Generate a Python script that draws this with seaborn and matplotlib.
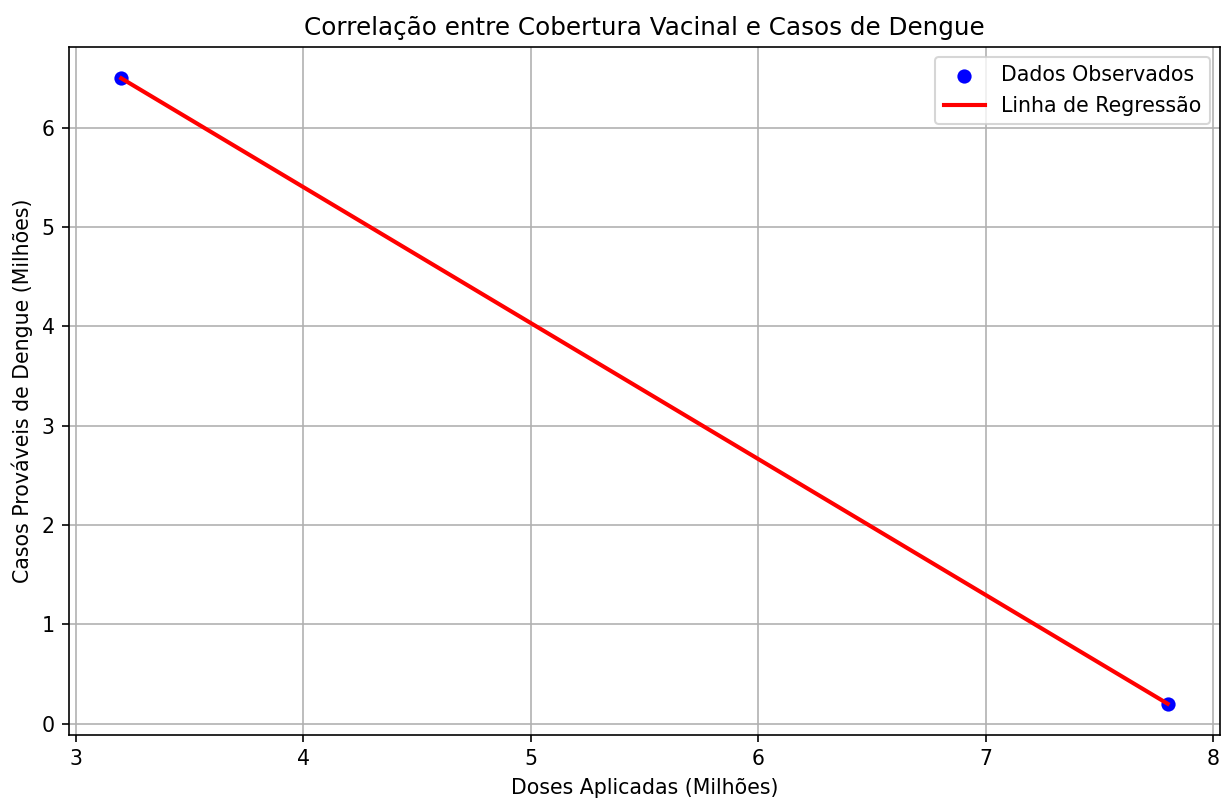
import matplotlib
matplotlib.use("Agg")
import matplotlib.pyplot as plt
import seaborn as sns
import numpy as np
import pandas as pd

doses = [3.2, 7.8]
casos = [6.5, 0.2]
reg_x = [3.2, 7.8]
reg_y = [6.5, 0.2]

df = pd.DataFrame({"doses": doses, "casos": casos})
reg = pd.DataFrame({"x": reg_x, "y": reg_y})

DPI = 148
fig, ax = plt.subplots(figsize=(1225 / DPI, 802 / DPI), dpi=DPI)
fig.subplots_adjust(left=0.0563, right=0.9959, top=0.9414, bottom=0.0835)

sns.scatterplot(data=df, x="doses", y="casos", color="blue", s=48, linewidth=0,
                label="Dados Observados", ax=ax, zorder=3)
sns.lineplot(data=reg, x="x", y="y", color="red", linewidth=2,
             label="Linha de Regressão", ax=ax, zorder=4)

ax.set_title("Correlação entre Cobertura Vacinal e Casos de Dengue", fontsize=12)
ax.set_xlabel("Doses Aplicadas (Milhões)")
ax.set_ylabel("Casos Prováveis de Dengue (Milhões)")
ax.grid(True, color="#b0b0b0", linewidth=0.8)
ax.set_axisbelow(True)
ax.legend(loc="upper right")

fig.savefig("out.png", dpi=DPI)
